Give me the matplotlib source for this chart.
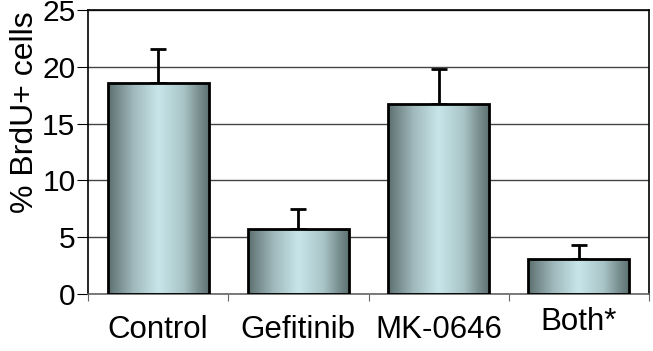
import matplotlib
matplotlib.use("Agg")
from matplotlib import pyplot as plt
import matplotlib.colors as mcolors
from matplotlib.patches import Rectangle
import matplotlib.transforms as mtransforms
import numpy as np

groups = ["Control", "Gefitinib", "MK-0646", "Both*"]
brdu_pct = [18.6, 5.75, 16.7, 3.1]
sem = [3.0, 1.7, 3.1, 1.2]
y_ticks = [0, 5, 10, 15, 20, 25]

plt.rcParams["font.family"] = ["Liberation Sans", "DejaVu Sans"]

fig = plt.figure(figsize=(6.53, 3.51), dpi=100)
ax = fig.add_axes([88 / 653, 1 - 294 / 351, 561 / 653, 284 / 351])

# horizontal metallic gradient used for every bar
grad_cmap = mcolors.LinearSegmentedColormap.from_list(
    "metal",
    [
        (0.0, "#5c6f70"),
        (0.25, "#9fb8bb"),
        (0.5, "#c8e6ea"),
        (0.75, "#a9c4c7"),
        (0.9, "#7a9091"),
        (1.0, "#5f7273"),
    ],
)
gradient = np.linspace(0, 1, 256).reshape(1, -1)

x = np.arange(len(groups))
width = 0.72
bars = ax.bar(x, brdu_pct, width=width, facecolor="none", edgecolor="black",
              linewidth=2, zorder=3)
for b in bars:
    x0, y0 = b.get_x(), b.get_y()
    w, h = b.get_width(), b.get_height()
    im = ax.imshow(gradient, cmap=grad_cmap, aspect="auto",
                   extent=(x0, x0 + w, y0, y0 + h), zorder=2)
    im.set_clip_path(Rectangle((x0, y0), w, h, transform=ax.transData))

ax.errorbar(x, brdu_pct, yerr=[np.zeros(len(sem)), sem], fmt="none",
            ecolor="black", elinewidth=2, capsize=6, capthick=2, zorder=1)

ax.set_xlim(-0.5, len(groups) - 0.5)
ax.set_ylim(0, 25)
ax.set_yticks(y_ticks)
ax.yaxis.grid(True, color="#444444", linewidth=1)
ax.set_axisbelow(True)

# category ticks sit between the bars, labels under each bar
ax.set_xticks(np.arange(len(groups) + 1) - 0.5, minor=False)
ax.set_xticklabels([])
ax.set_xticks(x, minor=True)
ax.set_xticklabels(groups, minor=True, fontsize=22.5)
ax.tick_params(axis="x", which="minor", length=0, pad=15)
ax.tick_params(axis="x", which="major", length=5, color="#666666")
ax.tick_params(axis="y", labelsize=21.5, length=8, pad=1)

# "Both*" sits a little higher in the original
lbl = ax.xaxis.get_minorticklabels()[3]
lbl.set_transform(lbl.get_transform() + mtransforms.ScaledTranslation(0, 8 / 100, fig.dpi_scale_trans))

for s in ax.spines.values():
    s.set_linewidth(1.2)
ax.spines["bottom"].set_color("#666666")

ax.set_ylabel("% BrdU+ cells", fontsize=23)
ax.yaxis.set_label_coords(-0.085, 0.639)

fig.savefig("out.png", dpi=100)
